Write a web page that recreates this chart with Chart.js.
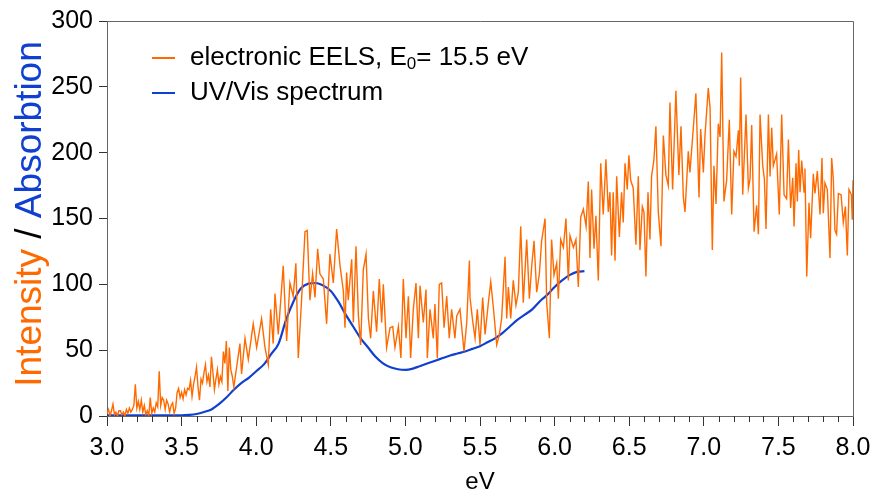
<!DOCTYPE html>
<html>
<head>
<meta charset="utf-8">
<script src="https://cdn.jsdelivr.net/npm/chart.js@4/dist/chart.umd.min.js"></script>
<style>
  html, body { margin: 0; padding: 0; background: #fff; }
  #wrap { width: 880px; height: 494px; }
</style>
</head>
<body>
<div id="wrap"><canvas id="c" width="880" height="494"></canvas></div>
<script>
// EELS spectrum (orange)
const eelsEnergy = [
  3.00,3.01,3.02,3.03,3.04,3.05,3.06,3.07,3.08,3.09,
  3.10,3.11,3.12,3.13,3.14,3.15,3.16,3.17,3.18,3.19,
  3.20,3.21,3.22,3.23,3.24,3.25,3.26,3.27,3.28,3.29,
  3.30,3.31,3.32,3.33,3.34,3.35,3.36,3.37,3.38,3.39,
  3.40,3.41,3.42,3.43,3.44,3.45,3.46,3.47,3.48,3.49,
  3.50,3.51,3.52,3.53,3.54,3.55,3.56,3.57,3.58,3.59,
  3.60,3.61,3.62,3.63,3.64,3.65,3.66,3.67,3.68,3.69,
  3.70,3.71,3.72,3.73,3.74,3.75,3.76,3.77,3.78,3.79,
  3.80,3.81,3.82,3.83,3.84,3.85,
  3.891,3.902,3.925,3.947,3.98,4.003,4.036,4.059,4.081,4.097,
  4.114,4.126,4.148,4.181,4.204,4.226,4.248,4.266,4.282,4.304,
  4.327,4.342,4.36,4.378,4.394,4.412,4.427,4.45,4.472,4.494,
  4.517,4.539,
  4.562,4.584,4.595,4.606,4.617,4.64,4.651,4.669,4.685,4.70,
  4.718,4.736,4.752,4.767,4.785,4.807,4.825,4.841,4.852,4.874,
  4.897,4.915,4.93,4.953,4.97,4.986,5.004,5.02,5.035,5.053,
  5.071,5.087,5.098,5.12,5.138,5.147,5.165,5.187,5.198,5.214,
  5.227,5.243,5.259,5.277,5.294,5.31,5.332,5.344,5.366,5.393,
  5.411,5.429,
  5.433,5.451,5.467,5.482,5.50,5.518,5.534,5.556,5.572,5.589,
  5.612,5.63,5.645,5.668,5.679,5.69,5.706,5.723,5.741,5.757,
  5.773,5.79,5.813,5.831,5.846,5.862,5.88,5.898,5.913,5.936,
  5.947,5.965,5.98,5.996,6.014,6.025,6.041,6.059,6.076,6.092,
  6.103,6.126,6.143,6.159,6.175,6.193,6.211,6.226,6.237,
  6.248,6.264,6.277,6.293,6.309,6.326,6.344,6.36,6.371,6.382,
  6.393,6.405,6.416,6.434,6.449,6.46,6.472,6.487,6.498,6.51,
  6.527,6.545,6.561,6.572,6.588,6.599,6.612,6.626,6.639,6.65,
  6.666,6.679,6.695,6.713,6.729,6.746,6.762,6.773,6.791,6.813,
  6.833,6.847,6.863,6.874,6.896,6.907,6.934,6.947,6.968,6.979,
  6.997,7.008,7.03,7.042,7.057,7.068,7.082,7.097,
  7.109,7.12,7.135,7.153,7.171,7.187,7.202,7.216,7.232,7.238,
  7.247,7.261,7.283,7.299,7.31,7.321,7.337,7.354,7.366,7.377,
  7.395,7.406,7.417,7.433,7.444,7.455,7.466,7.488,7.506,7.522,
  7.538,7.555,7.567,7.582,7.596,7.605,7.618,7.627,7.636,7.645,
  7.656,7.672,7.678,7.69,7.705,7.716,7.734,7.745,7.761,7.779,
  7.792,7.801,7.812,7.828,7.846,7.857,7.868,7.879,7.89,7.902,
  7.92,7.935,7.949,7.962,7.973,7.989,7.995,8.00
];
const eelsIntensity = [
  2,5,0,4,9,1,3,0,4,4,
  1,3,0,5,2,6,3,5,8,24,
  6,11,5,12,3,8,1,4,0,14,
  2,6,3,10,7,34,8,14,12,5,
  12,9,3,8,10,2,6,18,21,14,
  18,13,20,16,21,20,27,15,24,30,
  37,22,12,28,25,33,39,26,31,22,
  45,33,20,28,35,24,30,26,49,40,
  57,19,52,35,30,22,
  55,32,59,43,70,52,74,52,39,81,
  55,93,62,114,57,101,91,116,44,88,
  140,141,88,108,90,127,108,104,70,123,
  101,142,
  114,95,67,109,88,119,71,129,76,54,
  111,123,74,59,95,64,104,71,100,52,
  67,68,52,68,44,104,59,91,44,81,
  101,59,99,71,96,44,81,59,85,44,
  100,101,67,91,59,81,59,76,81,49,
  71,118,
  90,72,59,81,54,90,62,86,102,83,
  54,62,74,121,74,98,74,103,84,94,
  144,86,134,89,113,133,94,108,133,150,
  86,59,134,107,116,89,134,128,150,103,
  137,128,134,98,151,157,144,178,120,
  172,127,152,103,192,153,195,155,170,122,
  170,118,182,136,170,147,192,172,198,179,
  173,130,182,126,159,155,106,170,134,182,
  195,220,155,129,213,183,175,238,172,247,
  183,220,166,155,201,185,225,245,166,218,
  185,213,249,234,126,190,161,222,
  212,276,163,179,225,153,201,197,217,190,
  257,168,229,173,180,221,140,160,138,229,
  190,180,142,229,182,219,190,199,153,229,
  168,165,210,158,181,144,192,163,202,170,
  194,170,188,106,162,135,184,169,186,153,
  196,154,177,172,120,196,180,141,138,169,
  168,147,159,122,172,168,149,179
];

// UV/Vis absorption (blue)
const uvEnergy = [
  3.00,3.05,3.10,3.15,3.20,3.25,3.30,3.35,3.40,3.45,
  3.50,3.55,3.60,3.65,3.70,3.75,3.80,3.85,3.90,3.95,
  4.00,4.05,4.10,4.15,4.20,4.25,4.30,4.35,4.40,4.45,
  4.50,4.55,4.60,4.65,4.70,4.75,4.80,4.85,4.90,4.95,
  5.00,5.05,5.10,5.15,5.20,5.25,5.30,5.35,5.40,5.45,
  5.50,5.55,5.60,5.65,5.70,5.75,5.80,5.85,5.90,5.95,
  6.00,6.05,6.10,6.15,6.20
];
const uvAbsorption = [
  0.5,0.5,0.5,0.5,0.5,0.5,0.5,0.5,0.5,0.5,
  0.5,0.8,1.5,3,5,9,14,20,25,29,
  34,39,47,55,73,87,97,100.5,101,99,
  95,87,77,68,59,52,45,40,37,35.5,
  35,36,38,40,42,44,46,47.5,49,51,
  53,56,59,63,68,73,77,81,87,92,
  98,103,107,109.5,110
];

const xTicks = [3.0, 3.5, 4.0, 4.5, 5.0, 5.5, 6.0, 6.5, 7.0, 7.5, 8.0];
const yTicks = [0, 50, 100, 150, 200, 250, 300];
const seriesNames = ['electronic EELS, E', 'UV/Vis spectrum'];

const ORANGE = '#ff6a00';
const BLUE = '#1040d0';
const AXIS = '#666';
const FONT = '"Liberation Sans", Arial, sans-serif';

Chart.defaults.font.family = FONT;
Chart.defaults.color = '#000';

const pts = (xs, ys) => xs.map((x, i) => ({ x, y: ys[i] }));

// frame, minor ticks, axis titles and legend
const decor = {
  id: 'decor',
  afterDraw(chart) {
    const { ctx, chartArea: a, scales } = chart;
    const xs = scales.x;
    ctx.save();
    ctx.strokeStyle = AXIS;
    ctx.lineWidth = 1;
    ctx.beginPath();
    ctx.moveTo(a.left, a.top + 0.5); ctx.lineTo(a.right + 0.5, a.top + 0.5);
    ctx.lineTo(a.right + 0.5, a.bottom);
    ctx.stroke();

    // minor x ticks every 0.1
    ctx.strokeStyle = '#333';
    ctx.beginPath();
    for (let i = 30; i <= 80; i++) {
      if (i % 5 === 0) continue;
      const px = Math.round(xs.getPixelForValue(i / 10)) + 0.5;
      ctx.moveTo(px, a.bottom); ctx.lineTo(px, a.bottom + 6);
    }
    ctx.stroke();

    // x title
    ctx.fillStyle = '#000';
    ctx.font = '24px ' + FONT;
    ctx.textAlign = 'center';
    ctx.textBaseline = 'middle';
    ctx.fillText('eV', (a.left + a.right) / 2, 482);

    // y title, three colours
    const parts = [['Intensity', ORANGE], [' / ', '#000'], ['Absorbtion', BLUE]];
    ctx.font = '37px ' + FONT;
    const total = parts.reduce((s, p) => s + ctx.measureText(p[0]).width, 0);
    ctx.translate(41, 214);
    ctx.rotate(-Math.PI / 2);
    ctx.textAlign = 'left';
    ctx.textBaseline = 'alphabetic';
    let x = -total / 2;
    for (const [t, c] of parts) {
      ctx.fillStyle = c;
      ctx.fillText(t, x, 0);
      x += ctx.measureText(t).width;
    }
    ctx.setTransform(1, 0, 0, 1, 0, 0);

    // legend
    const rows = [[58, ORANGE], [93, BLUE]];
    rows.forEach(([y, c], i) => {
      ctx.strokeStyle = c;
      ctx.lineWidth = 2;
      ctx.beginPath(); ctx.moveTo(152, y); ctx.lineTo(175, y); ctx.stroke();
      ctx.fillStyle = '#000';
      ctx.font = '26px ' + FONT;
      ctx.textBaseline = 'middle';
      ctx.fillText(seriesNames[i], 190, y);
      if (i === 0) {
        let tx = 190 + ctx.measureText(seriesNames[0]).width;
        ctx.font = '17px ' + FONT;
        ctx.fillText('0', tx, y + 6);
        tx += ctx.measureText('0').width;
        ctx.font = '26px ' + FONT;
        ctx.fillText('= 15.5 eV', tx, y);
      }
    });
    ctx.restore();
  }
};

new Chart(document.getElementById('c'), {
  type: 'line',
  data: {
    datasets: [
      {
        label: 'electronic EELS, E0= 15.5 eV',
        data: pts(eelsEnergy, eelsIntensity),
        borderColor: ORANGE,
        borderWidth: 1.4,
        pointRadius: 0,
        tension: 0
      },
      {
        label: 'UV/Vis spectrum',
        data: pts(uvEnergy, uvAbsorption),
        borderColor: BLUE,
        borderWidth: 2.2,
        pointRadius: 0,
        cubicInterpolationMode: 'monotone'
      }
    ]
  },
  options: {
    responsive: false,
    animation: false,
    devicePixelRatio: 1,
    layout: { padding: { top: 20, right: 27, left: 0, bottom: 0 } },
    plugins: { legend: { display: false }, tooltip: { enabled: false } },
    scales: {
      x: {
        type: 'linear',
        min: 3, max: 8,
        afterBuildTicks: (s) => { s.ticks = xTicks.map(v => ({ value: v })); },
        afterFit: (s) => { s.height = 78; },
        ticks: { font: { size: 25 }, padding: 7, maxRotation: 0, callback: (v) => Number(v).toFixed(1) },
        grid: { drawOnChartArea: false, tickLength: 10, color: '#333' },
        border: { color: AXIS }
      },
      y: {
        min: 0, max: 300,
        afterBuildTicks: (s) => { s.ticks = yTicks.map(v => ({ value: v })); },
        afterFit: (s) => { s.width = 107; },
        ticks: { font: { size: 25 }, padding: 6 },
        grid: { drawOnChartArea: false, tickLength: 8, color: '#333' },
        border: { color: AXIS }
      }
    }
  },
  plugins: [decor]
});
</script>
</body>
</html>
